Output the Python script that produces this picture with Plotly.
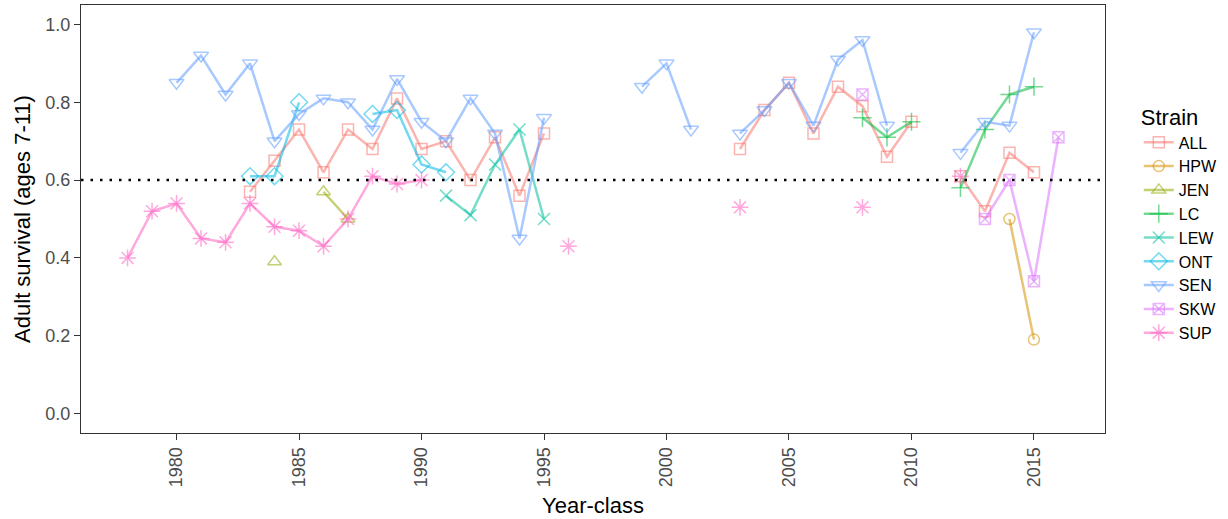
import plotly.graph_objects as go

years = list(range(1978, 2017))

def series(d):
    return [d.get(y) for y in years]

ALL = series({1983: 0.57, 1984: 0.65, 1985: 0.73, 1986: 0.62, 1987: 0.73, 1988: 0.68,
              1989: 0.81, 1990: 0.68, 1991: 0.70, 1992: 0.60, 1993: 0.71, 1994: 0.56,
              1995: 0.72, 2003: 0.68, 2004: 0.78, 2005: 0.85, 2006: 0.72, 2007: 0.84,
              2008: 0.79, 2009: 0.66, 2010: 0.75, 2012: 0.61, 2013: 0.52, 2014: 0.67,
              2015: 0.62})
HPW = series({2014: 0.50, 2015: 0.19})
JEN = series({1984: 0.39, 1986: 0.57, 1987: 0.50})
LC = series({2008: 0.76, 2009: 0.71, 2010: 0.75, 2012: 0.58, 2013: 0.73, 2014: 0.82,
             2015: 0.84})
LEW = series({1991: 0.56, 1992: 0.51, 1993: 0.64, 1994: 0.73, 1995: 0.50})
ONT = series({1983: 0.61, 1984: 0.61, 1985: 0.80, 1988: 0.77, 1989: 0.78, 1990: 0.64,
              1991: 0.62})
SEN = series({1980: 0.85, 1981: 0.92, 1982: 0.82, 1983: 0.90, 1984: 0.70, 1985: 0.77,
              1986: 0.81, 1987: 0.80, 1988: 0.73, 1989: 0.86, 1990: 0.75, 1991: 0.70,
              1992: 0.81, 1993: 0.72, 1994: 0.45, 1995: 0.76, 1999: 0.84, 2000: 0.90,
              2001: 0.73, 2003: 0.72, 2004: 0.78, 2005: 0.85, 2006: 0.74, 2007: 0.91,
              2008: 0.96, 2009: 0.74, 2012: 0.67, 2013: 0.75, 2014: 0.74, 2015: 0.98})
SKW = series({2008: 0.82, 2013: 0.50, 2014: 0.60, 2015: 0.34, 2016: 0.71})
SUP = series({1978: 0.40, 1979: 0.52, 1980: 0.54, 1981: 0.45, 1982: 0.44, 1983: 0.54,
              1984: 0.48, 1985: 0.47, 1986: 0.43, 1987: 0.50, 1988: 0.61, 1989: 0.59,
              1990: 0.60, 1996: 0.43, 2003: 0.53, 2008: 0.53, 2012: 0.61})

strains = ["ALL", "HPW", "JEN", "LC", "LEW", "ONT", "SEN", "SKW", "SUP"]
values = [ALL, HPW, JEN, LC, LEW, ONT, SEN, SKW, SUP]
colors = ["248,118,109", "211,146,0", "147,170,0", "0,186,56", "0,193,159",
          "0,185,227", "97,156,255", "219,114,251", "255,97,195"]
symbols = ["square-open", "circle-open", "triangle-up-open", "cross-thin-open",
           "x-thin-open", "diamond-open", "triangle-down-open", "square-x-open",
           "asterisk-open"]
sizes = [11, 11, 12, 13, 12, 13, 13, 11, 14]
ref_value = 0.6
x_ticks = [1980, 1985, 1990, 1995, 2000, 2005, 2010, 2015]
y_ticks = [0.0, 0.2, 0.4, 0.6, 0.8, 1.0]

FONT = "Liberation Sans, Arial"

fig = go.Figure()
for name, vals, col, sym, sz in zip(strains, values, colors, symbols, sizes):
    c = f"rgba({col},0.55)"
    fig.add_trace(go.Scatter(
        x=years, y=vals, name=name, mode="lines+markers",
        connectgaps=False,
        line=dict(color=c, width=2.5),
        marker=dict(symbol=sym, size=sz, color=c, line=dict(color=c, width=1.5)),
    ))

fig.add_hline(y=ref_value, line=dict(color="black", width=2.5, dash="2.5px,7px"))

axis_common = dict(
    showgrid=False, zeroline=False, showline=True, mirror=True,
    linecolor="#333333", linewidth=1, ticks="outside", ticklen=6,
    tickcolor="#333333", tickfont=dict(family=FONT, size=18, color="#4D4D4D"),
)

fig.update_layout(
    width=1228, height=519,
    margin=dict(l=81, r=123, t=5, b=86),
    paper_bgcolor="white", plot_bgcolor="white",
    font=dict(family=FONT, color="black"),
    xaxis=dict(range=[1976.1, 2017.9], tickvals=x_ticks, tickangle=-90,
               title=dict(text="Year-class", font=dict(size=22), standoff=11),
               **axis_common),
    yaxis=dict(range=[-0.05, 1.05], tickvals=y_ticks, tickformat=".1f",
               title=dict(text="Adult survival (ages 7-11)", font=dict(size=22), standoff=8),
               **axis_common),
    legend=dict(title=dict(text="Strain", font=dict(size=22)), font=dict(size=16),
                x=1.033, xanchor="left", y=0.49, yanchor="middle",
                tracegroupgap=0, itemwidth=30),
    showlegend=True,
)

fig.write_html("out.html")
